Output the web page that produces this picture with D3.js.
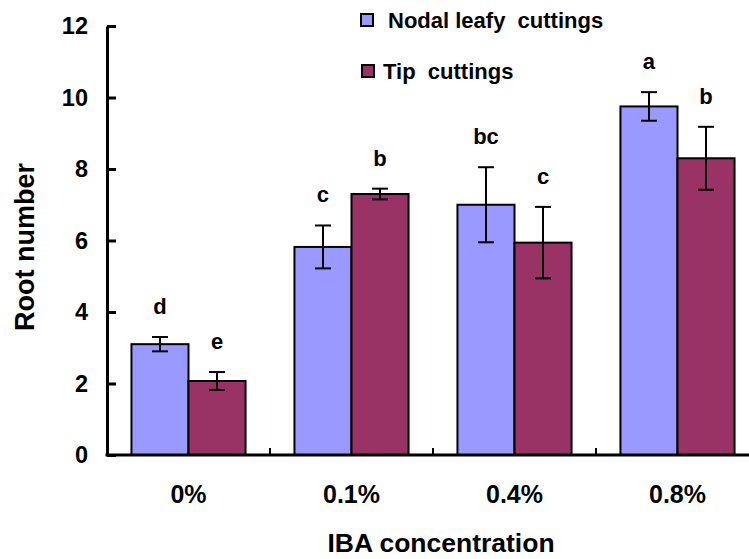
<!DOCTYPE html>
<html>
<head>
<meta charset="utf-8">
<script src="https://cdn.jsdelivr.net/npm/d3@7"></script>
<style>
  html, body { margin: 0; padding: 0; background: #fff; }
  svg { display: block; font-family: "Liberation Sans", Arial, sans-serif; font-weight: bold; }
</style>
</head>
<body>
<svg id="chart" width="749" height="559"></svg>
<script>
// IBA concentrations and root counts (mean ± error) for two cutting types
const concentrations = ["0%", "0.1%", "0.4%", "0.8%"];
const seriesNames = ["Nodal leafy  cuttings", "Tip  cuttings"];
const nodalMeans = [3.1, 5.82, 7.0, 9.75];
const nodalErrors = [0.2, 0.6, 1.05, 0.4];
const nodalLetters = ["d", "c", "bc", "a"];
const tipMeans = [2.07, 7.3, 5.94, 8.3];
const tipErrors = [0.25, 0.15, 1.0, 0.88];
const tipLetters = ["e", "b", "c", "b"];
const yTicks = [0, 2, 4, 6, 8, 10, 12];
const colors = ["#9999FF", "#993366"];

const svg = d3.select("#chart");
const plotLeft = 107, plotRight = 759, plotTop = 26, plotBottom = 455;

const x = d3.scaleBand().domain(concentrations).range([plotLeft, plotRight])
  .paddingInner(0.3).paddingOuter(0.15);
const sub = d3.scaleBand().domain([0, 1]).range([0, x.bandwidth()]);
const y = d3.scaleLinear().domain([0, 12]).range([plotBottom, plotTop]);

const series = [
  { means: nodalMeans, errors: nodalErrors, letters: nodalLetters },
  { means: tipMeans, errors: tipErrors, letters: tipLetters }
];

// bars
series.forEach((s, si) => {
  const g = svg.append("g");
  g.selectAll("rect").data(concentrations).join("rect")
    .attr("x", (c) => x(c) + sub(si))
    .attr("width", sub.bandwidth())
    .attr("y", (c, i) => y(s.means[i]))
    .attr("height", (c, i) => y(0) - y(s.means[i]))
    .attr("fill", colors[si])
    .attr("stroke", "#000")
    .attr("stroke-width", 2);
});

// error bars and significance letters
series.forEach((s, si) => {
  const g = svg.append("g").attr("stroke", "#000").attr("stroke-width", 2);
  concentrations.forEach((c, i) => {
    const cx = x(c) + sub(si) + sub.bandwidth() / 2;
    const hi = y(s.means[i] + s.errors[i]);
    const lo = y(s.means[i] - s.errors[i]);
    g.append("line").attr("x1", cx).attr("x2", cx).attr("y1", hi).attr("y2", lo);
    g.append("line").attr("x1", cx - 8).attr("x2", cx + 8).attr("y1", hi).attr("y2", hi);
    g.append("line").attr("x1", cx - 8).attr("x2", cx + 8).attr("y1", lo).attr("y2", lo);
    svg.append("text")
      .attr("x", cx).attr("y", hi - 23)
      .attr("text-anchor", "middle")
      .attr("font-size", 22)
      .text(s.letters[i]);
  });
});

// y axis with inward ticks
const yAxis = svg.append("g").attr("transform", `translate(${plotLeft},0)`)
  .call(d3.axisLeft(y).tickValues(yTicks).tickSizeInner(-9).tickSizeOuter(0).tickPadding(19));
yAxis.select(".domain").attr("stroke-width", 3);
yAxis.selectAll(".tick line").attr("stroke-width", 3);
yAxis.selectAll(".tick text")
  .attr("font-size", 23.5).attr("font-family", "Liberation Sans, Arial, sans-serif")
  .attr("font-weight", "bold").attr("fill", "#000");

// x axis: baseline, category labels, ticks between categories
const xAxis = svg.append("g").attr("transform", `translate(0,${plotBottom})`)
  .call(d3.axisBottom(x).tickSize(0).tickPadding(30));
xAxis.select(".domain").remove();
xAxis.selectAll(".tick text")
  .attr("font-size", 25).attr("font-family", "Liberation Sans, Arial, sans-serif")
  .attr("font-weight", "bold").attr("fill", "#000");

svg.append("line")
  .attr("x1", plotLeft - 1.5).attr("x2", plotRight).attr("y1", plotBottom).attr("y2", plotBottom)
  .attr("stroke", "#000").attr("stroke-width", 3);
const bounds = concentrations.slice(1).map((c) => x(c) - x.step() * x.paddingInner() / 2);
svg.append("g").selectAll("line").data(bounds).join("line")
  .attr("x1", (d) => d).attr("x2", (d) => d)
  .attr("y1", plotBottom).attr("y2", plotBottom - 7)
  .attr("stroke", "#000").attr("stroke-width", 2);

// axis titles
svg.append("text")
  .attr("x", 441).attr("y", 552)
  .attr("text-anchor", "middle").attr("font-size", 26.5)
  .text("IBA concentration");
svg.append("text")
  .attr("transform", "translate(34,247) rotate(-90)")
  .attr("text-anchor", "middle").attr("font-size", 27)
  .text("Root number");

// legend
const legendRows = [{ x: 361, y: 14, tx: 388 }, { x: 362, y: 65, tx: 383 }];
seriesNames.forEach((name, i) => {
  const r = legendRows[i];
  svg.append("rect")
    .attr("x", r.x).attr("y", r.y).attr("width", 12).attr("height", 12)
    .attr("fill", colors[i]).attr("stroke", "#000").attr("stroke-width", 2);
  svg.append("text")
    .attr("x", r.tx).attr("y", r.y + 14)
    .attr("font-size", 22)
    .style("white-space", "pre")
    .text(name);
});
</script>
</body>
</html>
